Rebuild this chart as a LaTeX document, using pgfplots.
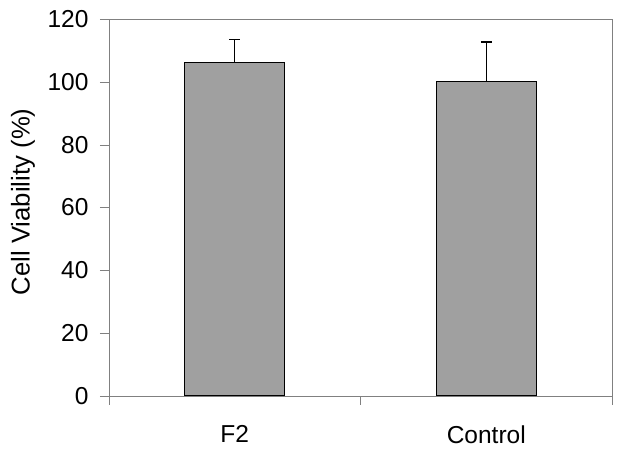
\documentclass[border=0pt]{standalone}
\usepackage{fontspec}
\setmainfont{Liberation Sans}
\usepackage{pgfplots}
\pgfplotsset{compat=1.18}
\definecolor{barfill}{RGB}{160,160,160}
\definecolor{axgray}{RGB}{128,128,128}
\begin{document}
\begin{tikzpicture}[x=1pt,y=1pt]
\useasboundingbox (0,0) rectangle (624,452);
\begin{axis}[
  at={(109pt,56pt)}, anchor=south west,
  width=503pt, height=377pt, scale only axis,
  xmin=-0.5, xmax=1.5, ymin=0, ymax=120,
  ytick={0,20,...,120},
  xtick={-0.5,0.5,1.5}, xticklabels={},
  extra x ticks={0,1}, extra x tick labels={F2,Control},
  extra x tick style={major tick length=0pt},
  axis line style={axgray},
  tick style={axgray},
  tick align=outside, ytick pos=left, xtick pos=bottom,
  major tick length=9pt,
  font=\fontsize{24.5}{29}\selectfont,
  /pgf/number format/assume math mode=true,
  yticklabel style={anchor=east, xshift=-8pt},
  xticklabel style={anchor=north, yshift=-26pt},
  ylabel={Cell Viability (\%)},
  ylabel style={at={(axis description cs:-0.171,0.515)}, anchor=center, font=\fontsize{25.7}{30}\selectfont},
]
\addplot[ybar, bar width=100pt, fill=barfill, draw=black, line width=1pt,
  error bars/.cd, y dir=plus, y explicit,
  error bar style={black, line width=1.2pt},
  error mark options={black, line width=1.2pt, mark size=5.5pt, rotate=90}]
  coordinates {(0,106) +- (0,7.6) (1,100) +- (0,12.7)};
\end{axis}
\end{tikzpicture}
\end{document}
